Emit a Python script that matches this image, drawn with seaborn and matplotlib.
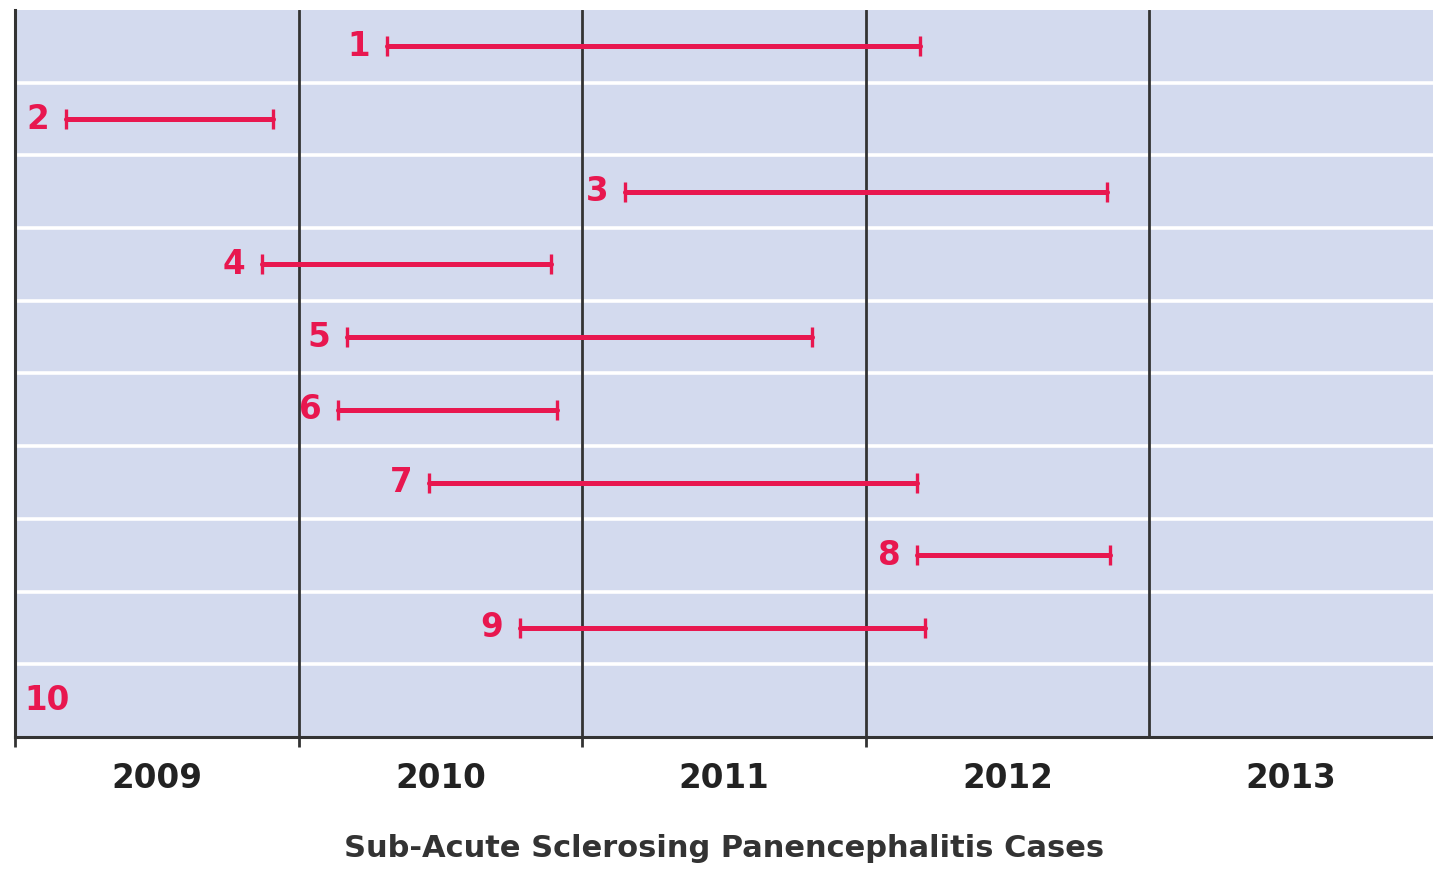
import matplotlib
matplotlib.use("Agg")
import matplotlib.pyplot as plt
import seaborn as sns
import pandas as pd
import numpy as np

# ---- data ----
cases = [1, 2, 3, 4, 5, 6, 7, 8, 9, 10]
start_year = [2010.31, 2009.18, 2011.15, 2009.87, 2010.17, 2010.14, 2010.46, 2012.18, 2010.78, None]
end_year = [2012.19, 2009.91, 2012.85, 2010.89, 2011.81, 2010.91, 2012.18, 2012.86, 2012.21, None]
year_labels = ["2009", "2010", "2011", "2012", "2013"]
year_starts = [2009, 2010, 2011, 2012, 2013]
x_title = "Sub-Acute Sclerosing Panencephalitis Cases"

BAR = "#e8174f"
BG = "#d3daee"
DARK = "#333333"

sns.set_style("white")
plt.rcParams["font.family"] = ["DejaVu Sans"]

fig = plt.figure(figsize=(14.33, 8.76), dpi=100)
ax = fig.add_axes([15 / 1433, 1 - 737 / 876, 1 - 15 / 1433, (737 - 10) / 876])
ax.set_facecolor(BG)

n = len(cases)
rows = {c: i for i, c in enumerate(cases)}

# long-form data for the intervals
recs = []
for c, s, e in zip(cases, start_year, end_year):
    if s is None:
        continue
    recs.append({"case": c, "year": s, "row": rows[c]})
    recs.append({"case": c, "year": e, "row": rows[c]})
df = pd.DataFrame(recs)

ax.set_xlim(year_starts[0], year_starts[-1] + 1)
ax.set_ylim(n - 0.5, -0.5)

# row separators (white)
for i in range(n - 1):
    ax.axhline(i + 0.5, color="white", lw=2.6, zorder=1)
# year boundaries (dark)
for y in year_starts[1:]:
    ax.axvline(y, color=DARK, lw=2.0, zorder=2)

sns.lineplot(data=df, x="year", y="row", units="case", estimator=None,
             color=BAR, lw=3.6, ax=ax, zorder=3, sort=False)
sns.scatterplot(data=df, x="year", y="row", marker="|", s=190, linewidth=2.4,
                color=BAR, ax=ax, zorder=4, legend=False)

for c, s in zip(cases, start_year):
    if s is None:
        ax.annotate(str(c), xy=(year_starts[0], rows[c]), xytext=(7, 0),
                    textcoords="offset points", ha="left", va="center",
                    color=BAR, fontsize=23.5, fontweight="bold")
    else:
        ax.annotate(str(c), xy=(s, rows[c]), xytext=(-12, 0),
                    textcoords="offset points", ha="right", va="center",
                    color=BAR, fontsize=23.5, fontweight="bold")

# axes styling
ax.set_yticks([])
ax.set_ylabel("")
for side in ["top", "right"]:
    ax.spines[side].set_visible(False)
for side in ["left", "bottom"]:
    ax.spines[side].set_color(DARK)
    ax.spines[side].set_linewidth(2.2)

ax.set_xticks(year_starts[:-1])
ax.set_xticklabels([])
ax.tick_params(axis="x", which="major", length=7, width=2, color=DARK, direction="out", bottom=True)
ax.set_xticks([y + 0.5 for y in year_starts], minor=True)
ax.set_xticklabels(year_labels, minor=True, fontsize=23.5, fontweight="bold", color="#222222")
ax.tick_params(axis="x", which="minor", length=0, pad=18)

ax.set_xlabel(x_title, fontsize=22, fontweight="bold", color="#333333", labelpad=28)

fig.savefig("out.png", dpi=100)
